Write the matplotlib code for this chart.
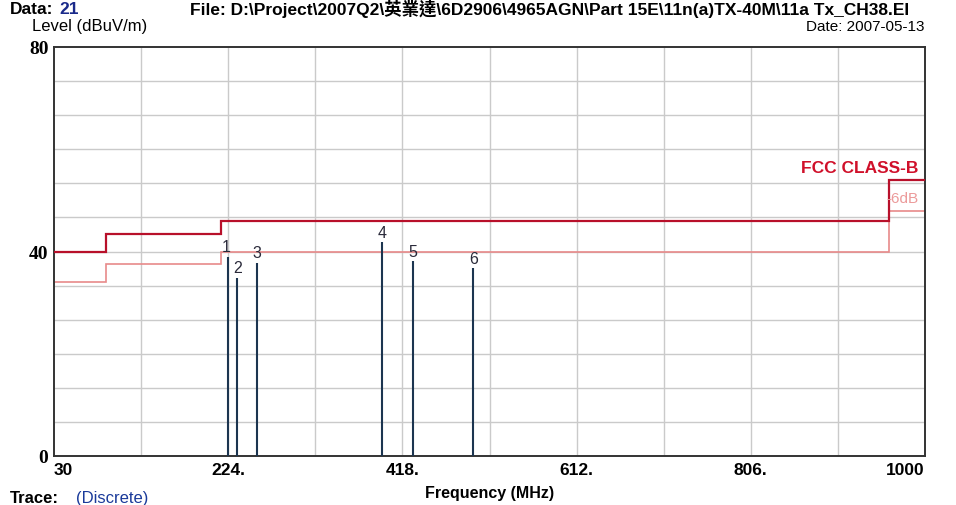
import numpy as np
import matplotlib.pyplot as plt

# limit line (FCC class B) and the -6dB margin line
limit_edges = [30, 88, 216, 960, 1000]
limit_level = [40, 43.5, 46, 54]
margin_level = [34, 37.5, 40, 48]

# measured peaks
peak_no = [1, 2, 3, 4, 5, 6]
peak_freq = [224, 234, 256, 395, 430, 497]
peak_level = [39.0, 34.9, 37.8, 41.8, 38.1, 36.7]

x_ticks = [30, 224, 418, 612, 806, 1000]
x_ticklabels = ["30", "224.", "418.", "612.", "806.", "1000"]
y_ticks = [0, 40, 80]

fam = ["Liberation Sans", "Noto Sans CJK TC", "DejaVu Sans"]
plt.rcParams["font.family"] = fam

fig = plt.figure(figsize=(9.56, 5.06), dpi=100)
ax = fig.add_axes([54 / 956, 49 / 506, 871 / 956, 409 / 506])

ax.set_xlim(30, 1000)
ax.set_ylim(0, 80)

# grid: 10 columns, 12 rows
for gx in np.linspace(30, 1000, 11)[1:-1]:
    ax.axvline(gx, color="#cacaca", lw=1.0, zorder=1)
for gy in np.linspace(0, 80, 13)[1:-1]:
    ax.axhline(gy, color="#cacaca", lw=1.0, zorder=1)

ax.stairs(margin_level, limit_edges, baseline=None, color="#e88a8a", lw=1.2, zorder=2)
ax.stairs(limit_level, limit_edges, baseline=None, color="#b8102a", lw=1.6, zorder=3)

ax.vlines(peak_freq, 0, peak_level, color="#1c3550", lw=1.5, zorder=4)
for n, f, lv in zip(peak_no, peak_freq, peak_level):
    dx = -2 if n == 1 else 0
    ax.text(f + dx, lv + 0.5, str(n), ha="center", va="bottom", fontsize=11.5,
            color="#2a2a3a", zorder=5)

ax.text(993, 55.0, "FCC CLASS-B", ha="right", va="bottom", fontsize=12.5,
        fontweight="bold", color="#d0102a")
ax.text(993, 49.0, "-6dB", ha="right", va="bottom", fontsize=11,
        color="#ec9a9a")

for s in ax.spines.values():
    s.set_color("#333333")
    s.set_linewidth(1.4)

ax.set_xticks(x_ticks)
ax.set_xticklabels(x_ticklabels, fontsize=12.5, fontweight="bold")
ax.set_yticks(y_ticks)
ax.set_yticklabels([str(v) for v in y_ticks], fontsize=14, fontweight="bold",
                   family="Liberation Serif")
ax.tick_params(length=0, pad=4)
ax.get_xticklabels()[0].set_horizontalalignment("left")
ax.get_xticklabels()[-1].set_horizontalalignment("right")
ax.get_xticklabels()[-1].set_x(1012)

# header / footer texts
fig.text(10 / 956, 1 - 9 / 506, "Data:", fontsize=12.5, fontweight="bold", va="center")
fig.text(59 / 956, 1 - 9 / 506, "21", fontsize=12.5, fontweight="bold", va="center", color="#1a2a8a")
fig.text(190 / 956, 1 - 9 / 506,
         "File: D:\\Project\\2007Q2\\英業達\\6D2906\\4965AGN\\Part 15E\\11n(a)TX-40M\\11a Tx_CH38.EI",
         fontsize=12.5, fontweight="bold", va="center")
fig.text(32 / 956, 1 - 27 / 506, "Level (dBuV/m)", fontsize=12, va="center")
fig.text(925 / 956, 1 - 27 / 506, "Date: 2007-05-13", fontsize=11, va="center", ha="right")
fig.text(490 / 956, 1 - 494 / 506, "Frequency (MHz)", fontsize=11.5, fontweight="bold",
         va="center", ha="center")
fig.text(10 / 956, 1 - 499 / 506, "Trace:", fontsize=12, fontweight="bold", va="center")
fig.text(76 / 956, 1 - 499 / 506, "(Discrete)", fontsize=12, va="center", color="#1a3a9a")

fig.savefig("out.png", dpi=100)
